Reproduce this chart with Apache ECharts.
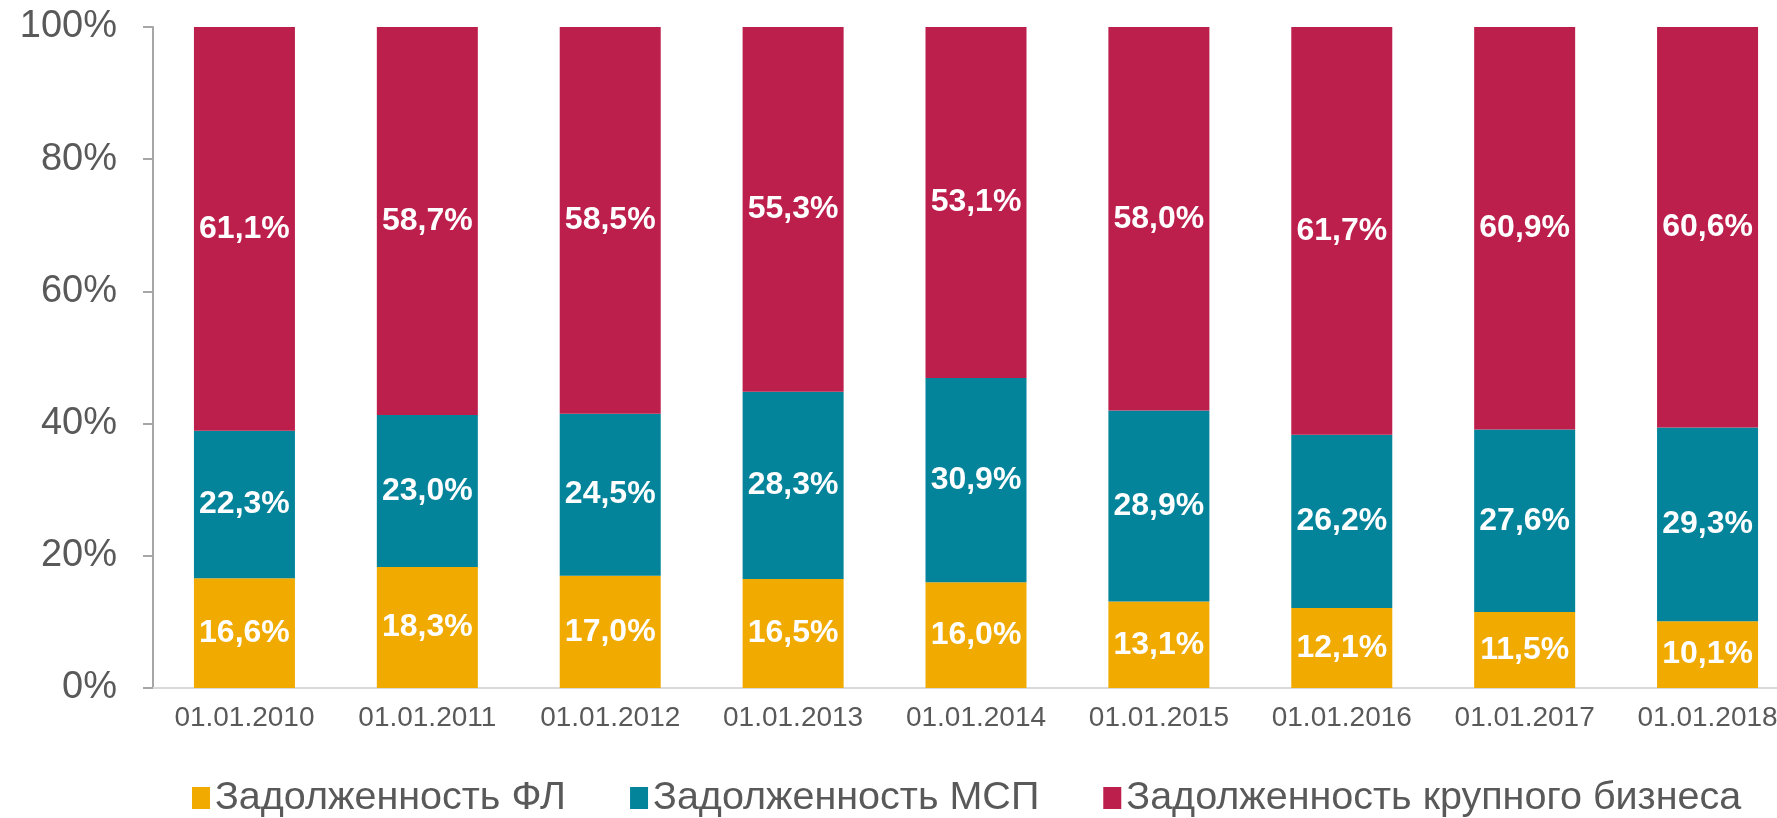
<!DOCTYPE html>
<html>
<head>
<meta charset="utf-8">
<script src="https://cdn.jsdelivr.net/npm/echarts@6/dist/echarts.min.js"></script>
<style>
	html, body { margin: 0; padding: 0; background: #fff; }
	#chart { width: 1777px; height: 818px; }
</style>
</head>
<body>
<div id="chart"></div>
<script>
var dates = ['01.01.2010', '01.01.2011', '01.01.2012', '01.01.2013', '01.01.2014',
	'01.01.2015', '01.01.2016', '01.01.2017', '01.01.2018'];
var seriesNames = ['Задолженность ФЛ', 'Задолженность МСП', 'Задолженность крупного бизнеса'];
var debtFL = [16.6, 18.3, 17.0, 16.5, 16.0, 13.1, 12.1, 11.5, 10.1];
var debtMSP = [22.3, 23.0, 24.5, 28.3, 30.9, 28.9, 26.2, 27.6, 29.3];
var debtLarge = [61.1, 58.7, 58.5, 55.3, 53.1, 58.0, 61.7, 60.9, 60.6];
var colors = ['#F0AA00', '#04849B', '#BD1F4C'];

var myChart = echarts.init(document.getElementById('chart'));

function makeSeries(name, data, color) {
	return {
		name: name,
		type: 'bar',
		stack: 'total',
		barWidth: 101,
		data: data,
		itemStyle: { color: color },
		label: {
			show: true,
			position: 'inside',
			color: '#fff',
			fontFamily: 'Liberation Sans',
			fontWeight: 'bold',
			fontSize: 32,
			formatter: function(p) {
				return p.value.toFixed(1).replace('.', ',') + '%';
			}
		}
	};
}

myChart.setOption({
	animation: false,
	grid: { left: 153, right: -22, top: 27, bottom: 130, outerBoundsMode: 'none' },
	legend: {
		left: 187,
		top: 773,
		itemWidth: 18,
		itemHeight: 22,
		itemGap: 64,
		icon: 'rect',
		textStyle: { color: '#595959', fontSize: 39.5, fontFamily: 'Liberation Sans' },
		data: seriesNames
	},
	xAxis: {
		type: 'category',
		data: dates,
		axisLine: { lineStyle: { color: '#d9d9d9', width: 2 } },
		axisTick: { show: false },
		axisLabel: { color: '#595959', fontSize: 28, fontFamily: 'Liberation Sans', margin: 16, interval: 0 }
	},
	yAxis: {
		type: 'value',
		min: 0,
		max: 100,
		interval: 20,
		splitLine: { show: false },
		axisLine: { show: true, lineStyle: { color: '#a6a6a6', width: 2 } },
		axisTick: { show: true, length: 10, lineStyle: { color: '#a6a6a6', width: 2 } },
		axisLabel: {
			color: '#595959',
			fontSize: 38,
			fontFamily: 'Liberation Sans',
			margin: 36,
			formatter: '{value}%'
		}
	},
	series: [
		makeSeries(seriesNames[0], debtFL, colors[0]),
		makeSeries(seriesNames[1], debtMSP, colors[1]),
		makeSeries(seriesNames[2], debtLarge, colors[2])
	]
});
</script>
</body>
</html>
